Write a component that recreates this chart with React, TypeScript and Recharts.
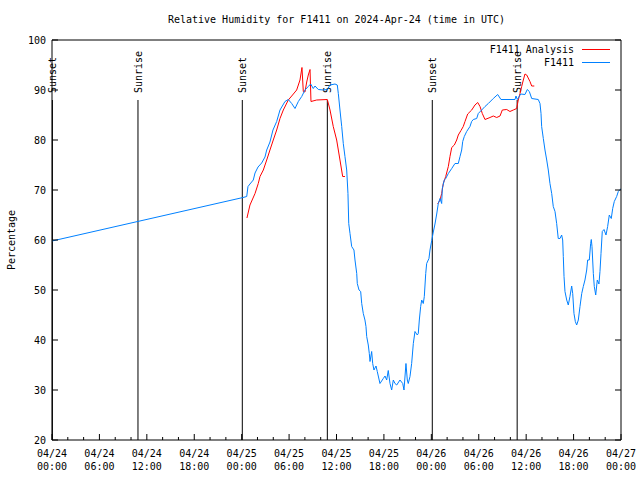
import React from "react";
import { LineChart, Line, XAxis, YAxis, ReferenceLine, Legend } from "recharts";

const FONT = "'DejaVu Sans Mono', 'Liberation Mono', monospace";
const BLUE = "#0080ff";
const RED = "#ff0000";

// hours since 04/24 00:00 UTC
const f1411Hours = [
  0, 24.17, 24.64, 24.8, 25.05, 25.47, 25.69, 26.07, 26.53, 26.95, 27.17, 27.58, 27.96, 28.43,
  28.85, 29.48, 29.9, 30.33, 30.75, 31.17, 31.6, 32.01, 32.43, 32.73, 33.06, 33.28, 33.7, 34.33,
  34.84, 35.18, 35.81, 36.1, 36.23, 36.44, 36.66, 36.86, 37.07, 37.29, 37.45, 37.55, 37.71, 37.92,
  38.21, 38.34, 38.56, 38.63, 38.85, 39.06, 39.19, 39.39, 39.6, 39.73, 39.82, 40.02, 40.15, 40.24,
  40.45, 40.58, 40.74, 41.0, 41.16, 41.5, 41.92, 42.14, 42.35, 42.55, 42.77, 42.98, 43.19, 43.4,
  43.62, 44.03, 44.38, 44.54, 44.79, 44.96, 45.08, 45.3, 45.51, 45.72, 45.93, 46.22, 46.35, 46.48,
  46.65, 46.78, 46.98, 47.11, 47.29, 47.41, 47.7, 47.83, 48.05, 48.25, 48.46, 48.68, 48.88, 49.1,
  49.31, 49.39, 49.64, 49.82, 50.15, 50.58, 50.99, 51.41, 51.63, 51.84, 51.97, 52.17, 52.47, 52.89,
  53.1, 53.31, 53.74, 53.94, 54.37, 54.79, 55.21, 55.84, 56.4, 56.81, 58.59, 58.71, 58.88, 59.31,
  59.85, 60.14, 60.4, 60.7, 61.53, 61.75, 61.88, 61.96, 62.17, 62.38, 62.6, 62.8, 63.01, 63.23,
  63.43, 63.65, 63.86, 64.06, 64.28, 64.49, 64.62, 64.7, 64.79, 64.91, 65.13, 65.33, 65.54, 65.76,
  65.89, 66.05, 66.22, 66.39, 66.6, 66.81, 67.03, 67.23, 67.44, 67.66, 67.78, 67.99, 68.16, 68.24,
  68.33, 68.5, 68.62, 68.8, 69.0, 69.21, 69.34, 69.47, 69.63, 69.85, 70.1, 70.31, 70.52, 70.77,
  70.95, 71.15, 71.45, 71.66, 71.87, 72.0,
];
const f1411Values = [
  59.8, 68.5, 68.7, 70.7, 71.2, 72.0, 73.4, 74.6, 75.4, 76.6, 78.0, 79.6, 82.0, 83.7,
  86.0, 87.7, 88.1, 87.3, 86.3, 87.7, 88.7, 90.0, 90.7, 91.2, 90.3, 90.8, 90.1, 90.0,
  90.1, 91.0, 91.2, 91.0, 89.3, 86.0, 82.7, 79.3, 76.7, 74.0, 69.3, 63.3, 61.3, 58.7,
  58.0, 56.0, 53.3, 51.3, 50.0, 49.7, 47.3, 45.3, 44.0, 42.7, 40.7, 39.0, 37.3, 35.7,
  37.7, 35.3, 34.0, 34.8, 33.7, 31.3, 32.3, 32.8, 32.0, 33.9, 31.3, 30.0, 32.0, 31.3,
  31.0, 32.0, 31.3, 30.0, 35.3, 32.0, 31.3, 32.7, 35.3, 39.3, 41.7, 41.0, 41.3, 44.0,
  46.7, 48.0, 47.3, 48.7, 53.3, 55.3, 56.3, 58.0, 59.9, 61.6, 63.2, 65.2, 67.3, 68.3,
  67.3, 70.3, 72.0, 72.3, 73.3, 74.3, 75.3, 75.3, 76.7, 78.0, 79.7, 80.7, 81.7, 82.7,
  83.7, 84.1, 84.3, 85.3, 86.0, 86.7, 87.3, 88.3, 89.1, 88.1, 88.1, 88.8, 88.1, 89.2,
  89.1, 90.1, 89.7, 88.3, 88.1, 87.3, 85.3, 82.7, 80.3, 78.0, 76.0, 74.0, 71.3, 69.3,
  66.7, 65.7, 63.3, 60.3, 60.3, 61.0, 60.0, 56.7, 52.7, 49.7, 48.0, 47.0, 48.7, 50.8,
  49.3, 45.3, 43.7, 43.0, 44.0, 46.7, 49.3, 50.7, 52.0, 54.0, 56.0, 56.0, 59.3, 60.1,
  58.7, 53.3, 50.7, 49.0, 52.0, 51.2, 53.7, 57.3, 61.7, 62.1, 61.0, 62.7, 65.0, 64.3,
  66.3, 67.7, 68.7, 69.7, 70.1, 70.2,
];

// null marks the break between the two analysis runs
const analysisHours = [
  24.67, 25.05, 25.69, 26.1, 26.32, 26.74, 27.17, 27.58, 28.0, 28.43, 28.85, 29.27, 29.9, 30.33,
  30.96, 31.17, 31.38, 31.63, 31.8, 32.01, 32.23, 32.43, 32.65, 32.77, 33.49, 34.84, 35.18, 35.59,
  36.02, 36.44, 36.78, 37.07,
  42.0,
  48.8, 49.1, 49.31, 49.51, 49.82, 50.15, 50.36, 50.58, 50.91, 51.21, 51.41, 51.75, 52.04, 52.26,
  52.6, 53.11, 53.52, 53.87, 54.16, 54.45, 54.79, 55.42, 55.84, 56.27, 56.69, 56.98, 57.54, 57.95,
  58.37, 58.8, 59.0, 59.22, 59.43, 59.64, 59.85, 60.07, 60.48, 60.7, 61.03,
];
const analysisValues = [
  64.4, 67.0, 69.3, 71.3, 72.7, 74.0, 76.0, 78.0, 80.0, 82.0, 84.3, 86.0, 88.0, 88.8,
  90.0, 91.0, 92.0, 94.5, 89.7, 89.6, 91.6, 93.0, 94.1, 87.7, 88.0, 88.1, 86.0, 82.7,
  80.0, 76.0, 72.7, 72.7,
  null,
  67.2, 68.0, 69.3, 71.3, 72.7, 74.7, 76.7, 78.5, 79.0, 80.0, 81.0, 81.9, 82.7, 83.7,
  85.2, 86.0, 87.0, 87.5, 86.7, 85.3, 84.1, 84.5, 84.8, 84.5, 84.8, 86.0, 86.1, 85.7,
  86.0, 86.3, 88.0, 89.3, 90.7, 92.0, 93.2, 93.0, 91.7, 90.8, 90.8,
];

const minorTicks = [
  0, 2, 4, 6, 8, 10, 12, 14, 16, 18, 20, 22, 24, 26, 28, 30, 32, 34, 36, 38, 40, 42, 44, 46, 48,
  50, 52, 54, 56, 58, 60, 62, 64, 66, 68, 70, 72,
];
const majorTicks = [0, 6, 12, 18, 24, 30, 36, 42, 48, 54, 60, 66, 72];
const tickDates = ["04/24", "04/24", "04/24", "04/24", "04/25", "04/25", "04/25", "04/25", "04/26", "04/26", "04/26", "04/26", "04/27"];
const tickTimes = ["00:00", "06:00", "12:00", "18:00", "00:00", "06:00", "12:00", "18:00", "00:00", "06:00", "12:00", "18:00", "00:00"];
const percentTicks = [20, 30, 40, 50, 60, 70, 80, 90, 100];

const sunHours = [0.05, 10.88, 24.08, 34.84, 48.12, 58.86];
const sunLabels = ["Sunset", "Sunrise", "Sunset", "Sunrise", "Sunset", "Sunrise"];
const SUN_TOP = 88;

const f1411Data = f1411Hours.map((h, i) => ({ h, rh: f1411Values[i] }));
const analysisData = analysisHours.map((h, i) => ({ h, rh: analysisValues[i] }));

const BottomTick = ({ x, y, payload }: any) => {
  const idx = majorTicks.indexOf(payload.value);
  return (
    <g>
      <line x1={x} x2={x} y1={y} y2={y - (idx >= 0 ? 6 : 3)} stroke="#000" />
      {idx >= 0 && (
        <text textAnchor="middle" fontSize={10} fontFamily={FONT} fill="#000">
          <tspan x={x} y={y + 17}>{tickDates[idx]}</tspan>
          <tspan x={x} y={y + 30}>{tickTimes[idx]}</tspan>
        </text>
      )}
    </g>
  );
};

const TopTick = ({ x, y, payload }: any) => {
  const major = majorTicks.includes(payload.value);
  return <line x1={x} x2={x} y1={y} y2={y + (major ? 6 : 3)} stroke="#000" />;
};

const LeftTick = ({ x, y, payload }: any) => (
  <g>
    <line x1={x} x2={x + 6} y1={y} y2={y} stroke="#000" />
    <text x={x - 6} y={y + 4} textAnchor="end" fontSize={10} fontFamily={FONT} fill="#000">
      {payload.value}
    </text>
  </g>
);

const RightTick = ({ x, y }: any) => <line x1={x} x2={x - 6} y1={y} y2={y} stroke="#000" />;

const TitleLabel = ({ viewBox }: any) => (
  <text
    x={viewBox.x + viewBox.width / 2}
    y={viewBox.y - 7}
    textAnchor="middle"
    fontSize={10}
    fontFamily={FONT}
    fill="#000"
  >
    Relative Humidity for F1411 on 2024-Apr-24 (time in UTC)
  </text>
);

const YLabel = ({ viewBox }: any) => {
  const x = viewBox.x + 15;
  const y = viewBox.y + viewBox.height / 2;
  return (
    <text x={x} y={y} transform={`rotate(-90 ${x} ${y})`} textAnchor="middle" fontSize={10} fontFamily={FONT} fill="#000">
      Percentage
    </text>
  );
};

const SunLabel = ({ viewBox, text }: any) => {
  const x = viewBox.x + 4;
  const y = viewBox.y - 7;
  return (
    <text x={x} y={y} transform={`rotate(-90 ${x} ${y})`} textAnchor="start" fontSize={10} fontFamily={FONT} fill="#000">
      {text}
    </text>
  );
};

const renderLegend = () => (
  <svg width={220} height={30} style={{ display: "block" }}>
    <text x={174} y={13} textAnchor="end" fontSize={10} fontFamily={FONT} fill="#000">
      F1411 Analysis
    </text>
    <line x1={182} x2={210} y1={9.5} y2={9.5} stroke={RED} />
    <text x={174} y={26} textAnchor="end" fontSize={10} fontFamily={FONT} fill="#000">
      F1411
    </text>
    <line x1={182} x2={210} y1={22.5} y2={22.5} stroke={BLUE} />
  </svg>
);

export default function App() {
  return (
    <div style={{ width: 640, height: 480, background: "#fff" }}>
      <style>{"body{margin:0}"}</style>
      <LineChart width={640} height={480} margin={{ top: 30, right: 9, bottom: 0, left: 0 }}>
        <XAxis
          dataKey="h"
          type="number"
          domain={[0, 72]}
          allowDataOverflow
          ticks={minorTicks}
          interval={0}
          height={40}
          tickSize={0}
          tickMargin={0}
          tickLine={false}
          axisLine={{ stroke: "#000" }}
          tick={<BottomTick />}
        />
        <XAxis
          xAxisId="top"
          orientation="top"
          type="number"
          domain={[0, 72]}
          allowDataOverflow
          ticks={minorTicks}
          interval={0}
          height={10}
          tickSize={0}
          tickMargin={0}
          tickLine={false}
          axisLine={{ stroke: "#000" }}
          tick={<TopTick />}
          label={<TitleLabel />}
        />
        <YAxis
          type="number"
          domain={[20, 100]}
          allowDataOverflow
          ticks={percentTicks}
          interval={0}
          width={52}
          tickSize={0}
          tickMargin={0}
          tickLine={false}
          axisLine={{ stroke: "#000" }}
          tick={<LeftTick />}
          label={<YLabel />}
        />
        <YAxis
          yAxisId="right"
          orientation="right"
          type="number"
          domain={[20, 100]}
          allowDataOverflow
          ticks={percentTicks}
          interval={0}
          width={10}
          tickSize={0}
          tickMargin={0}
          tickLine={false}
          axisLine={{ stroke: "#000" }}
          tick={<RightTick />}
        />
        {sunHours.map((h, i) => (
          <ReferenceLine
            key={`sun-${i}`}
            segment={[
              { x: h, y: 20 },
              { x: h, y: SUN_TOP },
            ]}
            stroke="#000"
            strokeWidth={1}
            label={<SunLabel text={sunLabels[i]} />}
          />
        ))}
        <Line
          data={analysisData}
          dataKey="rh"
          name="F1411 Analysis"
          type="linear"
          stroke={RED}
          strokeWidth={1}
          dot={false}
          connectNulls={false}
          isAnimationActive={false}
        />
        <Line
          data={f1411Data}
          dataKey="rh"
          name="F1411"
          type="linear"
          stroke={BLUE}
          strokeWidth={1}
          dot={false}
          isAnimationActive={false}
        />
        <Legend
          layout="horizontal"
          verticalAlign="middle"
          align="center"
          wrapperStyle={{ top: 40, left: 400, width: 220, height: 30 }}
          content={renderLegend}
        />
      </LineChart>
    </div>
  );
}
